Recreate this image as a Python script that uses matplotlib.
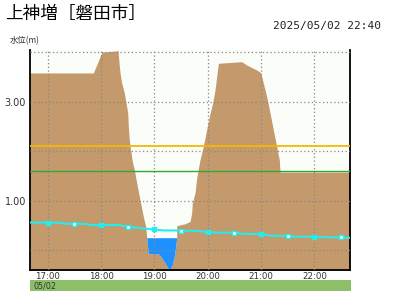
import matplotlib
matplotlib.use("Agg")
import matplotlib.pyplot as plt
from matplotlib.patches import Rectangle
import numpy as np

# ---- data ----
title = "上神増［磐田市］"
stamp = "2025/05/02 22:40"
ylabel = "水位(m)"
date_label = "05/02"

# water level (m), every 10 minutes from 16:40 to 22:40
level_start_hour = 16 + 40 / 60
level_step_min = 10
level = [0.56, 0.56, 0.56, 0.56, 0.535, 0.535, 0.535, 0.51, 0.51, 0.51, 0.51,
         0.475, 0.455, 0.435, 0.42, 0.40, 0.40, 0.395, 0.395, 0.385, 0.37,
         0.355, 0.355, 0.355, 0.33, 0.33, 0.33, 0.295, 0.29, 0.28, 0.275,
         0.275, 0.27, 0.265, 0.26, 0.26, 0.25]

# river cross-section profile drawn behind the series (hour position, elevation m)
prof_h = [16.667, 17.854, 17.917, 17.979, 18.011, 18.036, 18.298, 18.317, 18.323,
          18.354, 18.386, 18.435, 18.467, 18.499, 18.510, 18.529, 18.561, 18.579,
          18.623, 18.667, 18.729, 18.791, 18.836, 18.855, 18.885, 19.072, 19.136,
          19.198, 19.249, 19.292, 19.335, 19.372, 19.399, 19.417, 19.418, 19.573,
          19.667, 19.699, 19.710, 19.761, 19.792, 19.854, 19.916, 19.967, 20.029,
          20.092, 20.136, 20.167, 20.197, 20.210, 20.636, 20.730, 20.917, 20.992,
          21.041, 21.105, 21.167, 21.229, 21.292, 21.322, 21.341, 21.354, 21.363,
          22.667]
prof_v = [3.586, 3.586, 3.747, 3.915, 3.996, 4.010, 4.030, 4.050, 3.949,
          3.586, 3.384, 3.182, 2.980, 2.778, 2.501, 2.232, 1.970, 1.828,
          1.626, 1.364, 1.020, 0.683, 0.481, 0.253, -0.071, -0.071, -0.152,
          -0.253, -0.360, -0.380, -0.293, -0.125, 0.077, 0.253, 0.495, 0.535,
          0.582, 0.758, 0.960, 1.162, 1.459, 1.828, 2.097, 2.374, 2.703,
          2.980, 3.242, 3.511, 3.768, 3.782, 3.814, 3.747, 3.646, 3.592,
          3.384, 3.107, 2.778, 2.434, 2.097, 1.929, 1.828, 1.592, 1.580,
          1.580]
water_surface = 0.253
water_from, water_to = 18.855, 19.417

warn_orange = 2.11
warn_green = 1.60

# ---- figure ----
fig = plt.figure(figsize=(4, 3), dpi=100)
fig.patch.set_facecolor("white")
ax = fig.add_axes([0.075, 0.1, 0.8, 0.7333])
ax.set_facecolor("#fbfdf8")

ph = np.array(prof_h)
pv = np.array(prof_v)
ax.fill_between(ph, pv, -1, color="#c4996b", lw=0, zorder=1)
m = (ph >= water_from) & (ph <= water_to)
ax.fill_between(ph[m], pv[m], water_surface, color="#1e90ff", lw=0, zorder=1.5)

ax.set_xlim(16 + 40 / 60, 22 + 40 / 60)
ax.set_ylim(-0.4, 4.05)

ax.set_xticks(range(17, 23))
ax.set_xticklabels([f"{h}:00" for h in range(17, 23)], fontsize=6.2,
                   family="DejaVu Sans", color="#333333")
ax.set_yticks([0, 1, 2, 3, 4])
ax.set_yticklabels(["", "1.00", "", "3.00", ""], fontsize=7,
                   family="DejaVu Sans", color="#333333")
ax.tick_params(axis="x", length=0, pad=1.5)
ax.tick_params(axis="y", length=0, pad=3)
ax.grid(True, color="#888888", linestyle=(0, (1, 2)), linewidth=0.9, zorder=2)
ax.set_axisbelow(False)

ax.axhline(warn_orange, color="#f5b800", lw=1.3, zorder=3)
ax.axhline(warn_green, color="#33a833", lw=1.0, zorder=3)

lt = level_start_hour + np.arange(len(level)) * level_step_min / 60
lv = np.array(level)
ax.plot(lt, lv, color="#22eeee", lw=1.5, zorder=4)
filled = np.arange(2, len(level), 6)
hollow = np.arange(5, len(level), 6)
ax.plot(lt[filled], lv[filled], "s", ms=3.2, color="#22eeee", zorder=5)
ax.plot(lt[hollow], lv[hollow], "s", ms=3.2, mfc="white", mec="#22eeee", mew=1, zorder=5)

for s in ["left", "bottom", "right"]:
    ax.spines[s].set_color("black")
    ax.spines[s].set_linewidth(1.3)
ax.spines["top"].set_visible(False)

fig.text(0.012, 0.985, title, fontsize=12.7, family=["Noto Sans CJK JP", "DejaVu Sans"],
         va="top", ha="left")
fig.text(0.953, 0.912, stamp, fontsize=8.0, family="DejaVu Sans Mono",
         va="center", ha="right", color="#222222")
fig.text(0.025, 0.865, ylabel, fontsize=6, family=["Noto Sans CJK JP", "DejaVu Sans"],
         va="center", ha="left", color="#333333")

fig.patches.append(Rectangle((0.075, 0.031), 0.8025, 0.036, transform=fig.transFigure,
                             facecolor="#8dbf68", edgecolor="none"))
fig.text(0.085, 0.046, date_label, fontsize=5.8, family="DejaVu Sans",
         va="center", ha="left", color="#333333")

fig.savefig("out.png", dpi=100)
